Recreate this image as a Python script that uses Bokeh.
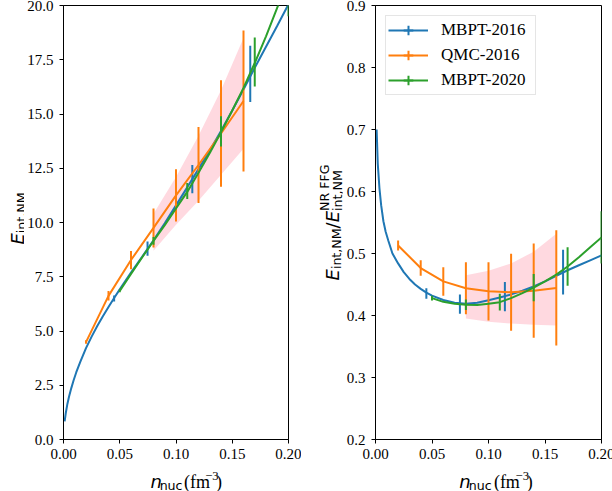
from math import pi
import numpy as np
from bokeh.plotting import figure
from bokeh.layouts import row, column
from bokeh.models import Range1d, FixedTicker, PrintfTickFormatter, Legend, LegendItem
from bokeh.core.properties import value
from bokeh.embed import file_html
from bokeh.resources import INLINE

# ---------------- data ----------------
x_ticks = [0.0, 0.05, 0.10, 0.15, 0.20]
left_y_ticks = [0.0, 2.5, 5.0, 7.5, 10.0, 12.5, 15.0, 17.5, 20.0]
right_y_ticks = [0.2, 0.3, 0.4, 0.5, 0.6, 0.7, 0.8, 0.9]
series_names = ["MBPT-2016", "QMC-2016", "MBPT-2020"]

# MBPT-2016 continuous curve
mbpt16_n = [0.001, 0.002, 0.0035, 0.005, 0.007, 0.009, 0.0113, 0.015, 0.02, 0.025,
            0.03, 0.035, 0.04, 0.045, 0.05, 0.06, 0.07, 0.08, 0.09, 0.10,
            0.11, 0.12, 0.13, 0.14, 0.15, 0.16, 0.17, 0.18, 0.19, 0.20]
mbpt16_E = [0.83, 1.21, 1.65, 1.99, 2.38, 2.73, 3.09, 3.59, 4.21, 4.74,
            5.23, 5.68, 6.11, 6.52, 6.92, 7.69, 8.43, 9.18, 9.96, 10.79,
            11.62, 12.46, 13.32, 14.22, 15.16, 16.13, 17.13, 18.10, 19.07, 20.06]
mbpt16_ratio = [0.700, 0.645, 0.605, 0.578, 0.552, 0.535, 0.521, 0.500, 0.484, 0.470,
                0.459, 0.450, 0.443, 0.437, 0.432, 0.425, 0.4205, 0.419, 0.4205, 0.4245,
                0.429, 0.434, 0.440, 0.447, 0.455, 0.464, 0.473, 0.481, 0.489, 0.497]
# MBPT-2016 error bars
mbpt16_bar_n = [0.045, 0.0747, 0.1145, 0.166]
mbpt16_bar_E = [6.5, 8.8, 12.0, 16.85]
mbpt16_bar_E_err = [0.14, 0.33, 0.65, 1.3]
mbpt16_bar_ratio = [0.4355, 0.4185, 0.4305, 0.470]
mbpt16_bar_ratio_err = [0.0085, 0.0155, 0.0235, 0.036]

# QMC-2016 points with error bars
qmc16_n = [0.02, 0.04, 0.06, 0.08, 0.10, 0.12, 0.14, 0.16]
qmc16_E = [4.49, 6.62, 8.27, 9.75, 11.25, 12.65, 14.1, 15.6]
qmc16_E_err = [0.08, 0.22, 0.42, 0.9, 1.2, 1.75, 2.45, 3.25]
qmc16_ratio = [0.513, 0.4765, 0.455, 0.444, 0.439, 0.4375, 0.440, 0.4445]
qmc16_ratio_err = [0.008, 0.0125, 0.023, 0.042, 0.047, 0.062, 0.076, 0.093]

# MBPT-2020 continuous curve
mbpt20_n = [0.05, 0.06, 0.07, 0.08, 0.09, 0.10, 0.11, 0.12, 0.13, 0.14,
            0.15, 0.16, 0.17, 0.18, 0.19, 0.20]
mbpt20_E = [6.85, 7.63, 8.40, 9.15, 9.88, 10.65, 11.41, 12.29, 13.2, 14.16,
            15.16, 16.2, 17.35, 18.58, 19.9, 21.23]
mbpt20_ratio = [0.428, 0.422, 0.419, 0.4175, 0.417, 0.419, 0.4215, 0.428, 0.436, 0.445,
                0.455, 0.466, 0.479, 0.494, 0.510, 0.526]
# MBPT-2020 error bars
mbpt20_bar_n = [0.05, 0.08, 0.11, 0.14, 0.17, 0.20]
mbpt20_bar_E = [6.85, 9.15, 11.45, 14.2, 17.4, 21.2]
mbpt20_bar_E_err = [0.06, 0.18, 0.37, 0.70, 1.13, 1.7]
mbpt20_bar_ratio = [0.428, 0.4175, 0.4215, 0.445, 0.479, 0.526]
mbpt20_bar_ratio_err = [0.004, 0.0085, 0.0135, 0.022, 0.031, 0.042]

# pink uncertainty band
band_n = [0.08, 0.10, 0.12, 0.14, 0.16]
band_E_lo = [8.7, 9.9, 11.0, 12.2, 13.4]
band_E_hi = [10.4, 12.1, 14.0, 16.1, 18.5]
band_ratio_lo = [0.395, 0.390, 0.387, 0.385, 0.384]
band_ratio_hi = [0.465, 0.472, 0.484, 0.503, 0.532]

# ---------------- style ----------------
BLUE, ORANGE, GREEN = "#1f77b4", "#ff7f0e", "#2ca02c"
LW = 2
TICK_FONT = "Liberation Serif"
SANS_W = {'E': 0.632, 'i': 0.278, 'n': 0.634, 't': 0.392, ',': 0.318, 'N': 0.748,
          'M': 0.863, 'R': 0.695, 'F': 0.575, 'G': 0.775, ' ': 0.318, '/': 0.337,
          'u': 0.634, 'c': 0.550}
SERIF_W = {' ': 0.4, '(': 0.333, 'f': 0.333, 'm': 0.778, ')': 0.333, '\u2212': 0.564, '3': 0.5}


def make_panel(y_lo, y_hi, y_ticks, y_fmt, frame_w, border_left):
    p = figure(frame_width=frame_w, frame_height=434,
               x_range=Range1d(0, 0.2), y_range=Range1d(y_lo, y_hi),
               output_backend="svg", toolbar_location=None,
               min_border_left=border_left, min_border_right=13,
               min_border_top=5, min_border_bottom=26)
    p.grid.visible = False
    p.outline_line_color = "black"
    p.outline_line_alpha = 1
    p.outline_line_width = 1
    p.background_fill_color = "white"
    p.border_fill_color = "white"
    p.xaxis.ticker = FixedTicker(ticks=x_ticks)
    p.xaxis.formatter = PrintfTickFormatter(format="%.2f")
    p.yaxis.ticker = FixedTicker(ticks=y_ticks)
    p.yaxis.formatter = PrintfTickFormatter(format=y_fmt)
    for ax in (p.xaxis[0], p.yaxis[0]):
        ax.major_tick_out = 4
        ax.major_tick_in = 0
        ax.minor_tick_out = 0
        ax.minor_tick_in = 0
        ax.axis_line_color = "black"
        ax.major_tick_line_color = "black"
        ax.major_label_text_font = TICK_FONT
        ax.major_label_text_font_size = "15px"
        ax.major_label_text_color = "black"
    p.xaxis.major_label_standoff = 5
    p.yaxis.major_label_standoff = 6
    return p


def label_fig(w, h):
    f = figure(width=w, height=h, x_range=Range1d(0, w), y_range=Range1d(0, h),
               output_backend="svg", toolbar_location=None, min_border=0,
               x_axis_location=None, y_axis_location=None)
    f.grid.visible = False
    f.outline_line_color = None
    f.background_fill_color = "white"
    f.border_fill_color = "white"
    return f


def text_width(text, fam, size):
    table = SANS_W if fam == "DejaVu Sans" else SERIF_W
    return sum(table.get(ch, 0.55) for ch in text) * size


def runs_layout(tokens):
    out, pos = [], 0.0
    for text, fam, style, size, shift, adv in tokens:
        shown = text.lstrip()
        lead = text_width(text[:len(text) - len(shown)], fam, size)
        out.append((shown, fam, style, size, shift, pos + lead))
        if adv:
            pos += text_width(text, fam, size)
    return out, pos


def add_math_text(f, tokens, vertical, base, center):
    runs, total = runs_layout(tokens)
    start = center - total / 2
    for text, fam, style, size, shift, pos in runs:
        if vertical:
            x, y, ang = base + shift, start + pos, pi / 2
        else:
            x, y, ang = start + pos, base - shift, 0
        f.text(x=[x], y=[y], text=[text], angle=ang, text_font=value(fam),
               text_font_style=style, text_font_size=f"{size}px", text_color="black",
               text_align="left", text_baseline="alphabetic")


F, S = 18, 12.6
x_label_tokens = [("n", "DejaVu Sans", "italic", F, 0, True),
                  ("nuc", "DejaVu Sans", "normal", S, 0.2 * F, True),
                  (" (fm", "Liberation Serif", "normal", F, 0, True),
                  ("\u22123", "Liberation Serif", "normal", S, -0.3 * F, True),
                  (")", "Liberation Serif", "normal", F, 0, True)]

# ---------------- left panel ----------------
pl = make_panel(0, 20, left_y_ticks, "%.1f", 225, 38)
pl.varea(x=band_n, y1=band_E_lo, y2=band_E_hi, fill_color="pink", fill_alpha=0.6)
pl.line(mbpt16_n, mbpt16_E, line_color=BLUE, line_width=LW)
b = np.array(mbpt16_bar_E); e = np.array(mbpt16_bar_E_err)
pl.segment(x0=mbpt16_bar_n, y0=b - e, x1=mbpt16_bar_n, y1=b + e, line_color=BLUE, line_width=LW)
pl.line(qmc16_n, qmc16_E, line_color=ORANGE, line_width=LW)
b = np.array(qmc16_E); e = np.array(qmc16_E_err)
pl.segment(x0=qmc16_n, y0=b - e, x1=qmc16_n, y1=b + e, line_color=ORANGE, line_width=LW)
pl.line(mbpt20_n, mbpt20_E, line_color=GREEN, line_width=LW)
b = np.array(mbpt20_bar_E); e = np.array(mbpt20_bar_E_err)
pl.segment(x0=mbpt20_bar_n, y0=b - e, x1=mbpt20_bar_n, y1=b + e, line_color=GREEN, line_width=LW)

ylab_left = label_fig(24, 491)
add_math_text(ylab_left, [("E", "DejaVu Sans", "italic", F, 0, True),
                          ("int,NM", "DejaVu Sans", "normal", S, 0.2 * F, True)],
              vertical=True, base=17, center=273)
xlab_left = label_fig(276, 26)
add_math_text(xlab_left, x_label_tokens, vertical=False, base=10, center=150.5)

# ---------------- right panel ----------------
pr = make_panel(0.2, 0.9, right_y_ticks, "%.1f", 226, 31)
pr.varea(x=band_n, y1=band_ratio_lo, y2=band_ratio_hi, fill_color="pink", fill_alpha=0.6)
l1 = pr.line(mbpt16_n, mbpt16_ratio, line_color=BLUE, line_width=LW)
b = np.array(mbpt16_bar_ratio); e = np.array(mbpt16_bar_ratio_err)
pr.segment(x0=mbpt16_bar_n, y0=b - e, x1=mbpt16_bar_n, y1=b + e, line_color=BLUE, line_width=LW)
l2 = pr.line(qmc16_n, qmc16_ratio, line_color=ORANGE, line_width=LW)
b = np.array(qmc16_ratio); e = np.array(qmc16_ratio_err)
pr.segment(x0=qmc16_n, y0=b - e, x1=qmc16_n, y1=b + e, line_color=ORANGE, line_width=LW)
l3 = pr.line(mbpt20_n, mbpt20_ratio, line_color=GREEN, line_width=LW)
b = np.array(mbpt20_bar_ratio); e = np.array(mbpt20_bar_ratio_err)
pr.segment(x0=mbpt20_bar_n, y0=b - e, x1=mbpt20_bar_n, y1=b + e, line_color=GREEN, line_width=LW)

# legend-only proxies (vertical error-bar tick); NaN position so nothing is drawn in the plot
ticks = [pr.scatter(x=[np.nan], y=[np.nan], marker="cross", size=18,
                    line_color=c, line_width=LW) for c in (BLUE, ORANGE, GREEN)]

legend = Legend(items=[LegendItem(label=series_names[0], renderers=[l1, ticks[0]]),
                       LegendItem(label=series_names[1], renderers=[l2, ticks[1]]),
                       LegendItem(label=series_names[2], renderers=[l3, ticks[2]])],
                location=(10, 344), padding=2, spacing=1,
                glyph_height=24, glyph_width=40, label_height=24, label_width=92,
                label_standoff=13, label_text_font=TICK_FONT, label_text_font_size="17px",
                label_text_color="black", border_line_color="#cccccc", border_line_width=1,
                background_fill_color="white", background_fill_alpha=0.8)
pr.add_layout(legend)

ylab_right = label_fig(42, 491)
add_math_text(ylab_right, [("E", "DejaVu Sans", "italic", F, 0, True),
                           ("int,NM", "DejaVu Sans", "normal", S, 0.2 * F, True),
                           ("/", "DejaVu Sans", "normal", F, 0, True),
                           ("E", "DejaVu Sans", "italic", F, 0, True),
                           ("int,NM", "DejaVu Sans", "normal", S, 0.3 * F, False),
                           ("NR FFG", "DejaVu Sans", "normal", S, -0.45 * F, True)],
              vertical=True, base=31, center=269)
xlab_right = label_fig(270, 26)
add_math_text(xlab_right, x_label_tokens, vertical=False, base=10, center=144)

layout = row(ylab_left, column(pl, xlab_left), ylab_right, column(pr, xlab_right))
open("out.html", "w").write(file_html(layout, INLINE))
